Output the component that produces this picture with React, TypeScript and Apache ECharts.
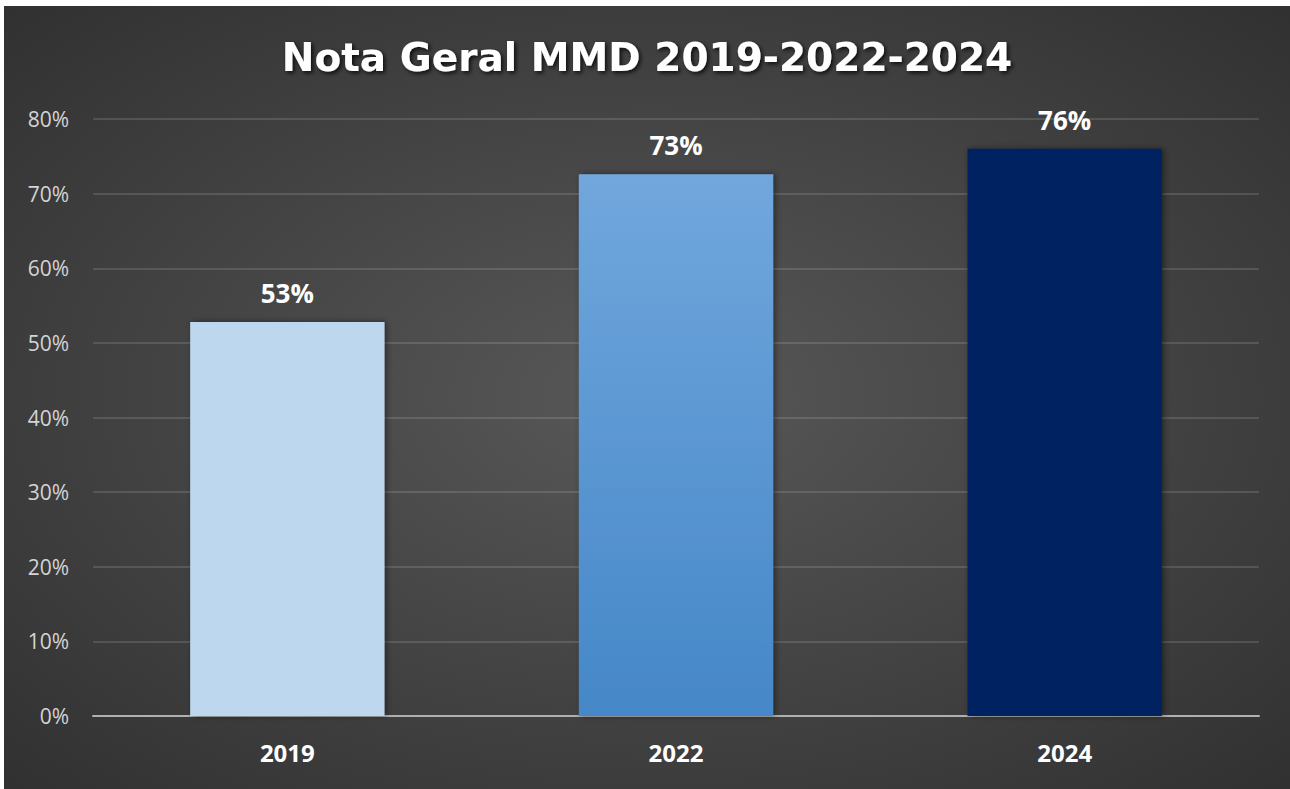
import React, { useEffect, useRef } from "react";
import * as echarts from "echarts";

const TITLE = "Nota Geral MMD 2019-2022-2024";
const categories = ["2019", "2022", "2024"];
const values = [52.8, 72.6, 76.0];
const yTicks = [0, 10, 20, 30, 40, 50, 60, 70, 80];

const barColors: any[] = [
  "#BDD7EE",
  {
    type: "linear", x: 0, y: 0, x2: 0, y2: 1,
    colorStops: [
      { offset: 0, color: "#71A7DD" },
      { offset: 1, color: "#4587C8" },
    ],
  },
  "#002060",
];

export default function App() {
  const ref = useRef<HTMLDivElement>(null);
  useEffect(() => {
    if (!ref.current) return;
    const chart = echarts.init(ref.current, undefined, { renderer: "svg" });
    chart.setOption({
      animation: false,
      backgroundColor: {
        type: "radial", x: 0.5, y: 0.5, r: 0.9,
        colorStops: [
          { offset: 0, color: "#585858" },
          { offset: 1, color: "#262626" },
        ],
      },
      title: {
        text: TITLE,
        left: "center",
        top: 27,
        textStyle: {
          color: "#ffffff",
          fontFamily: "DejaVu Sans",
          fontWeight: "bold",
          fontSize: 39,
          textShadowColor: "rgba(0,0,0,0.8)",
          textShadowBlur: 4,
          textShadowOffsetX: 2,
          textShadowOffsetY: 2,
        },
      },
      grid: { left: 89, right: 31, top: 113, bottom: 73 },
      xAxis: {
        type: "category",
        data: categories,
        axisLine: { lineStyle: { color: "#b0b0b0", width: 2 } },
        axisTick: { show: false },
        axisLabel: {
          color: "#ffffff",
          fontFamily: "Open Sans",
          fontWeight: "bold",
          fontSize: 24,
          margin: 24,
        },
      },
      yAxis: {
        type: "value",
        min: yTicks[0],
        max: yTicks[yTicks.length - 1],
        interval: 10,
        axisLine: { show: false },
        axisTick: { show: false },
        axisLabel: {
          color: "#d4d4d4",
          fontFamily: "Open Sans",
          fontSize: 21,
          margin: 24,
          formatter: (v: number) => `${v}%`,
        },
        splitLine: { lineStyle: { color: "rgba(255,255,255,0.13)", width: 2 } },
      },
      series: [
        {
          type: "bar",
          barWidth: "50%",
          data: values.map((v, i) => ({
            value: v,
            itemStyle: {
              color: barColors[i],
              shadowColor: "rgba(0,0,0,0.45)",
              shadowBlur: 6,
              shadowOffsetX: 2,
              shadowOffsetY: 0,
            },
          })),
          label: {
            show: true,
            position: "top",
            distance: 16,
            color: "#ffffff",
            fontFamily: "Open Sans",
            fontWeight: "bold",
            fontSize: 26,
            formatter: (p: any) => `${Math.round(p.value)}%`,
          },
        },
      ],
    });
    return () => chart.dispose();
  }, []);
  return (
    <div style={{ position: "fixed", left: 0, top: 0, width: 1290, height: 789, background: "#ffffff" }}>
      <div ref={ref} style={{ position: "absolute", left: 4, top: 6, width: 1286, height: 783 }} />
    </div>
  );
}
